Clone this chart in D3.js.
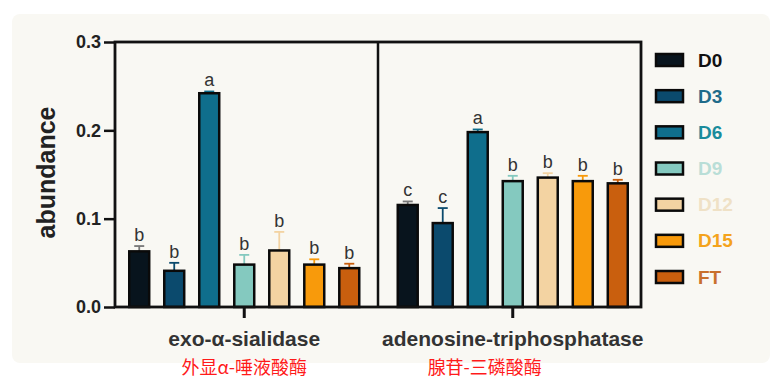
<!DOCTYPE html>
<html><head><meta charset="utf-8">
<script src="https://cdn.jsdelivr.net/npm/d3@7"></script>
<style>body{margin:0;background:#fff}svg{display:block}</style>
</head><body>
<svg id="c" width="782" height="378"></svg>
<script>
const categories = ["exo-α-sialidase", "adenosine-triphosphatase"];
const cnLabels = ["外显α-唾液酸酶", "腺苷-三磷酸酶"];
const series = ["D0", "D3", "D6", "D9", "D12", "D15", "FT"];
const colors = ["#08141d", "#0b4a6d", "#0f6e8c", "#84c9bf", "#f3d3a2", "#f89a0b", "#c95f0e"];
const legendText = ["#111111", "#1f6b8a", "#1a8c9c", "#b9ded7", "#efe1c6", "#f4a31c", "#c9702c"];
const values = [
  [0.063, 0.041, 0.242, 0.048, 0.064, 0.048, 0.044],
  [0.1155, 0.095, 0.198, 0.1425, 0.1465, 0.1425, 0.140]
];
const errors = [
  [0.006, 0.009, 0.002, 0.011, 0.021, 0.006, 0.005],
  [0.004, 0.017, 0.003, 0.006, 0.005, 0.006, 0.004]
];
const letters = [
  ["b", "b", "a", "b", "b", "b", "b"],
  ["c", "c", "a", "b", "b", "b", "b"]
];
const yTicks = [0, 0.1, 0.2, 0.3];

const svg = d3.select("#c");
const font = "'Liberation Sans', Arial, sans-serif";
svg.append("rect").attr("x", 12).attr("y", 14).attr("width", 758).attr("height", 349)
  .attr("rx", 8).attr("fill", "#f9f8f3");

const plotL = 115, plotR = 641, plotT = 42, plotB = 307, divX = 378;
const y = d3.scaleLinear().domain([0, 0.3]).range([plotB, plotT]);
const x0 = d3.scaleBand().domain(categories).range([110, 647]);
const x1 = d3.scaleBand().domain(series).range([0, x0.bandwidth()]).paddingInner(0.43).paddingOuter(0.55);

// y axis
const yAxis = svg.append("g").attr("transform", `translate(${plotL},0)`)
  .call(d3.axisLeft(y).tickValues(yTicks).tickFormat(d3.format(".1f")).tickSize(11).tickPadding(3));
yAxis.select(".domain").remove();
yAxis.selectAll("line").attr("stroke", "#111").attr("stroke-width", 2.5);
yAxis.selectAll("text").attr("font-family", font).attr("font-weight", "bold")
  .attr("font-size", 18).attr("fill", "#222");

svg.append("text").attr("transform", `translate(48,${(plotT + plotB) / 2 - 2}) rotate(-90)`)
  .attr("text-anchor", "middle").attr("dominant-baseline", "middle")
  .attr("font-family", font).attr("font-weight", "bold").attr("font-size", 25).attr("fill", "#222")
  .text("abundance");

// bars
const groups = svg.selectAll("g.grp").data(categories).join("g").attr("class", "grp")
  .attr("transform", d => `translate(${x0(d)},0)`);
groups.each(function (cat, gi) {
  const g = d3.select(this);
  const rows = series.map((s, i) => ({ s, i, v: values[gi][i], e: errors[gi][i], l: letters[gi][i] }));
  g.selectAll("line.err").data(rows).join("line").attr("class", "err")
    .attr("x1", d => x1(d.s) + x1.bandwidth() / 2).attr("x2", d => x1(d.s) + x1.bandwidth() / 2)
    .attr("y1", d => y(d.v)).attr("y2", d => y(d.v + d.e))
    .attr("stroke", d => d.i === 0 ? "#777" : colors[d.i]).attr("stroke-width", 1.8);
  g.selectAll("line.cap").data(rows).join("line").attr("class", "cap")
    .attr("x1", d => x1(d.s) + x1.bandwidth() / 2 - 5).attr("x2", d => x1(d.s) + x1.bandwidth() / 2 + 5)
    .attr("y1", d => y(d.v + d.e)).attr("y2", d => y(d.v + d.e))
    .attr("stroke", d => d.i === 0 ? "#777" : colors[d.i]).attr("stroke-width", 1.8);
  g.selectAll("rect.bar").data(rows).join("rect").attr("class", "bar")
    .attr("x", d => x1(d.s)).attr("width", x1.bandwidth())
    .attr("y", d => y(d.v)).attr("height", d => y(0) - y(d.v))
    .attr("fill", d => colors[d.i]).attr("stroke", "#0a0a0a").attr("stroke-width", 2.5);
  g.selectAll("text.sig").data(rows).join("text").attr("class", "sig")
    .attr("x", d => x1(d.s) + x1.bandwidth() / 2).attr("y", d => y(d.v + d.e) - 5)
    .attr("text-anchor", "middle").attr("font-family", font).attr("font-size", 18).attr("fill", "#333")
    .text(d => d.l);
});

// frame
svg.append("rect").attr("x", plotL).attr("y", plotT).attr("width", plotR - plotL).attr("height", plotB - plotT)
  .attr("fill", "none").attr("stroke", "#111").attr("stroke-width", 2.8);
svg.append("line").attr("x1", divX).attr("x2", divX).attr("y1", plotT).attr("y2", plotB)
  .attr("stroke", "#111").attr("stroke-width", 2.5);

// x axis ticks and labels
const xAxis = svg.append("g").attr("transform", `translate(0,${plotB})`)
  .call(d3.axisBottom(x0).tickSize(11).tickPadding(13));
xAxis.select(".domain").remove();
xAxis.selectAll("line").attr("stroke", "#111").attr("stroke-width", 3);
xAxis.selectAll("text").attr("font-family", font).attr("font-weight", "bold")
  .attr("font-size", 21).attr("fill", "#333");

const cnOffset = [0, -28];
svg.selectAll("text.cn").data(categories).join("text").attr("class", "cn")
  .attr("x", (d, i) => x0(d) + x0.bandwidth() / 2 + cnOffset[i]).attr("y", 374)
  .attr("text-anchor", "middle").attr("font-family", "'Noto Sans CJK SC', sans-serif")
  .attr("font-size", 18).attr("fill", "#ff1a1a").text((d, i) => cnLabels[i]);

// legend
const lg = svg.append("g");
const ly = d3.scalePoint().domain(series).range([60, 277]);
lg.selectAll("rect").data(series).join("rect")
  .attr("x", 656).attr("y", d => ly(d) - 6).attr("width", 27).attr("height", 12)
  .attr("fill", (d, i) => colors[i]).attr("stroke", "#0a0a0a").attr("stroke-width", 2.5);
lg.selectAll("text").data(series).join("text")
  .attr("x", 698).attr("y", d => ly(d)).attr("dominant-baseline", "central")
  .attr("font-family", font).attr("font-weight", "bold").attr("font-size", 19)
  .attr("fill", (d, i) => legendText[i]).text(d => d);
</script>
</body></html>
